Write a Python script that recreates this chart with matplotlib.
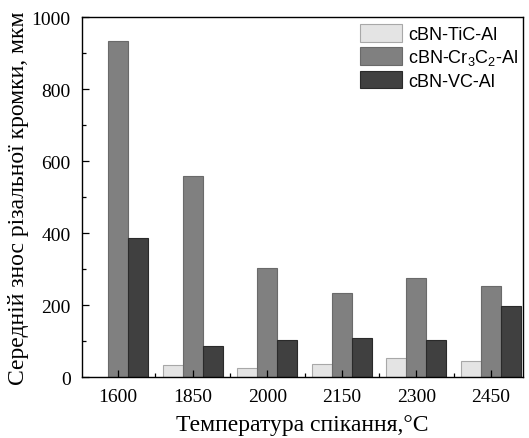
import matplotlib
matplotlib.use("Agg")
import matplotlib.pyplot as plt
import numpy as np
from matplotlib.ticker import MultipleLocator

plt.rcParams['mathtext.fontset'] = 'custom'
plt.rcParams['mathtext.rm'] = 'Liberation Sans'

categories = ['1600', '1850', '2000', '2150', '2300', '2450']
tic_al = [0, 33, 27, 38, 53, 44]
cr3c2_al = [934, 558, 304, 235, 275, 253]
vc_al = [388, 87, 105, 109, 105, 197]
labels = ['cBN-TiC-Al', r'cBN-Cr$_\mathregular{3}$C$_\mathregular{2}$-Al', 'cBN-VC-Al']

fig = plt.figure(figsize=(5.29, 4.39), dpi=100)
ax = fig.add_axes([81.7/529, 1-378.3/439, (523-81.7)/529, (378.3-18.3)/439])

x = np.arange(len(categories))
w = 0.268
ax.bar(x - w, tic_al, w, color='#e4e4e4', edgecolor='#a8a8a8', linewidth=0.8, label=labels[0])
ax.bar(x, cr3c2_al, w, color='#808080', edgecolor='#6a6a6a', linewidth=0.8, label=labels[1])
ax.bar(x + w, vc_al, w, color='#404040', edgecolor='#2a2a2a', linewidth=0.8, label=labels[2])

ax.set_xlim(-0.49, 5.43)
ax.set_ylim(0, 1000)
ax.set_xticks(x)
ax.set_xticklabels(categories)
ax.set_xticks(x[:-1] + 0.5, minor=True)
ax.yaxis.set_major_locator(MultipleLocator(200))
ax.yaxis.set_minor_locator(MultipleLocator(100))
ax.tick_params(which='both', direction='in', top=False, right=False, width=0.9)
ax.tick_params(which='major', length=5, labelsize=14, pad=8)
ax.tick_params(which='minor', length=3)
for lab in ax.get_xticklabels() + ax.get_yticklabels():
    lab.set_fontfamily('Liberation Serif')
for s in ax.spines.values():
    s.set_linewidth(1.0)

ax.set_xlabel('Температура спікання,°C', fontfamily='Liberation Serif', fontsize=17, labelpad=6.5)
ax.set_ylabel('Середній знос різальної кромки, мкм', fontfamily='Liberation Serif', fontsize=17, labelpad=2)

leg = ax.legend(loc='upper left', bbox_to_anchor=(360/529, 1-25/439), bbox_transform=fig.transFigure,
                frameon=False, borderpad=0, borderaxespad=0, handlelength=2.35, handleheight=1.12,
                handletextpad=0.3, labelspacing=0.22, prop={'family': 'Liberation Sans', 'size': 13})

fig.savefig('out.png', dpi=100)
